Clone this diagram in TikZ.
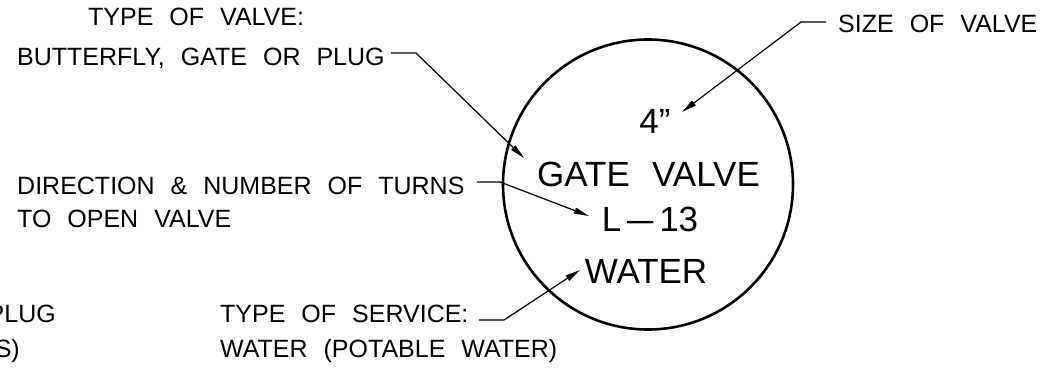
\documentclass[tikz,border=0pt]{standalone}
\usepackage{fontspec}
\usepackage{graphicx}
\setmainfont{Liberation Sans}
\newfontfamily\cadfont{Liberation Sans}[WordSpace=2.3]
\usetikzlibrary{arrows.meta}
\begin{document}
\begin{tikzpicture}[x=1pt,y=-1pt,
  lbl/.style={inner sep=0pt, anchor=base west, font=\cadfont\fontsize{25}{25}\selectfont},
  lblr/.style={lbl, anchor=base east},
  big/.style={inner sep=0pt, anchor=base, font=\cadfont\fontsize{35}{35}\selectfont},
  leader/.style={line width=1.2pt, line join=miter},
  arr/.style={leader, -{Triangle[length=15pt,width=6pt]}},
  ring/.style={circle, draw, line width=2.6pt, minimum size=290pt, inner sep=0pt}
]
\useasboundingbox (0,0) rectangle (1048,375);
\clip (0,0) rectangle (1048,375);

% valve circle
\node[ring] (valve) at (648,184.5) {};

% texts inside the circle
\node[big] (size)  at (655,133) {4”};
\node[big] (type)  at (648.5,186) {GATE  VALVE};
\node[big] (turns) at (650,231) {L\,\scalebox{1.35}[1]{–}\,13};
\node[big] (serv)  at (646,283) {WATER};

% callout texts
\node[lbl] (tv1) at (88,25.5) {TYPE  OF  VALVE:};
\node[lbl] (tv2) at (17,65) {BUTTERFLY,  GATE  OR  PLUG};
\node[lbl] (sv)  at (838,32) {SIZE  OF  VALVE};
\node[lbl] (dn1) at (17,194) {DIRECTION  \&  NUMBER  OF  TURNS};
\node[lbl] (dn2) at (17,227) {TO  OPEN  VALVE};
\node[lbl] (ts1) at (220,322) {TYPE  OF  SERVICE:};
\node[lbl] (ts2) at (220,357) {WATER  (POTABLE  WATER)};
\node[lblr] (cut1) at (56,322) {PLUG};
\node[lblr] (cut2) at (20,357) {S)};

% leader coordinates
\coordinate (a0) at (391,53);   \coordinate (a1) at (416,53);   \coordinate (a2) at (524,158);
\coordinate (b0) at (826,22);   \coordinate (b1) at (801,22);   \coordinate (b2) at (682,112);
\coordinate (c0) at (477,182);  \coordinate (c1) at (500,182);  \coordinate (c2) at (589,216);
\coordinate (d0) at (479,320);  \coordinate (d1) at (504,320);  \coordinate (d2) at (580,270);

\draw[arr] (a0) -- (a1) -- (a2);
\draw[arr] (b0) -- (b1) -- (b2);
\draw[arr] (c0) -- (c1) -- (c2);
\draw[arr] (d0) -- (d1) -- (d2);
\end{tikzpicture}
\end{document}
